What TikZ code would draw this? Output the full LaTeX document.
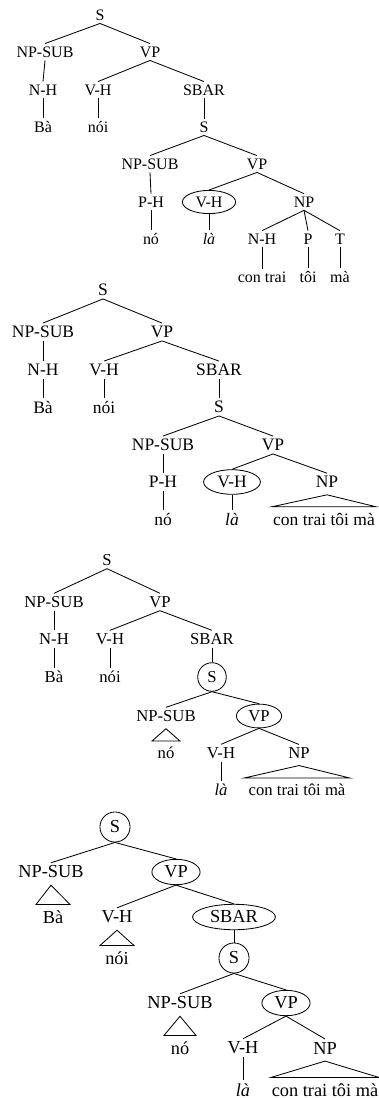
\documentclass[tikz,border=0pt]{standalone}
\usepackage{fontspec}
\setmainfont{Liberation Serif}
\usetikzlibrary{shapes.geometric, calc}
\newcommand{\roof}[3]{\draw ($(#1.south)+(0,4)$) -- ($(#2.north)+(-#3,-3)$) -- ($(#2.north)+(#3,-3)$) -- cycle;}
\tikzset{
  lab/.style={inner sep=1.6pt},
  ring/.style={draw, ellipse, inner xsep=3.2pt, inner ysep=1.7pt},
  circ/.style={draw, circle, inner sep=3pt}
}

\begin{document}
\begin{tikzpicture}[x=0.6pt, y=-0.6pt, line width=0.5pt]
     \useasboundingbox (0,0) rectangle (379,1098);
     % first tree
     \begin{scope}[font=\fontsize{9.6}{11}\selectfont]
     \node[lab] (aS) at (100,15) {S};
     \node[lab] (aNPSUB) at (45,52) {NP-SUB};
     \node[lab] (aVP) at (150,52) {VP};
     \node[lab] (aNH) at (43,90) {N-H};
     \node[lab] (aVH) at (98,90) {V-H};
     \node[lab] (aSBAR) at (204,90) {SBAR};
     \node[lab] (aBa) at (43,127) {Bà};
     \node[lab] (anoi) at (98,127) {nói};
     \node[lab] (aSb) at (204,127) {S};
     \node[lab] (aNPSUBb) at (150,164) {NP-SUB};
     \node[lab] (aVPb) at (257,164) {VP};
     \node[lab] (aPH) at (151,202) {P-H};
     \node[ring] (aVHb) at (209,202) {V-H};
     \node[lab] (aNP) at (304,202) {NP};
     \node[lab] (ano) at (151,239) {nó};
     \node[lab] (ala) at (209,239) {\itshape là};
     \node[lab] (aNHb) at (262,239) {N-H};
     \node[lab] (aP) at (308,239) {P};
     \node[lab] (aT) at (340,239) {T};
     \node[lab] (acon) at (262,277) {con trai};
     \node[lab] (atoi) at (308,277) {tôi};
     \node[lab] (ama) at (340,277) {mà};
     \foreach \p/\c in {aS/aNPSUB, aS/aVP, aNPSUB/aNH, aNH/aBa, aVP/aVH, aVP/aSBAR,
       aVH/anoi, aSBAR/aSb, aSb/aNPSUBb, aSb/aVPb, aNPSUBb/aPH, aPH/ano, aVPb/aVHb,
       aVPb/aNP, aVHb/ala, aNP/aNHb, aNP/aP, aNP/aT, aNHb/acon, aP/atoi, aT/ama}
       \draw (\p.south) -- (\c.north);
     \end{scope}
     % second tree
     \begin{scope}[font=\fontsize{10.5}{12.5}\selectfont]
     \node[lab] (bS) at (103,290) {S};
     \node[lab] (bNPSUB) at (43,332) {NP-SUB};
     \node[lab] (bVP) at (162,332) {VP};
     \node[lab] (bNH) at (43,370) {N-H};
     \node[lab] (bVH) at (104,370) {V-H};
     \node[lab] (bSBAR) at (219,370) {SBAR};
     \node[lab] (bBa) at (43,407) {Bà};
     \node[lab] (bnoi) at (104,407) {nói};
     \node[lab] (bSb) at (219,407) {S};
     \node[lab] (bNPSUBb) at (163,445) {NP-SUB};
     \node[lab] (bVPb) at (273,445) {VP};
     \node[lab] (bPH) at (163,482) {P-H};
     \node[ring] (bVHb) at (232,482) {V-H};
     \node[lab] (bNP) at (327,482) {NP};
     \node[lab] (bno) at (163,519) {nó};
     \node[lab] (bla) at (232,519) {\itshape là};
     \node[lab] (bcon) at (324,519) {con trai tôi mà};
     \foreach \p/\c in {bS/bNPSUB, bS/bVP, bNPSUB/bNH, bNH/bBa, bVP/bVH, bVP/bSBAR,
       bVH/bnoi, bSBAR/bSb, bSb/bNPSUBb, bSb/bVPb, bNPSUBb/bPH, bPH/bno, bVPb/bVHb,
       bVPb/bNP, bVHb/bla}
       \draw (\p.south) -- (\c.north);
     \roof{bNP}{bcon}{52}
     \end{scope}
     % third tree
     \begin{scope}[font=\fontsize{10}{12}\selectfont]
     \node[lab] (cS) at (107,560) {S};
     \node[lab] (cNPSUB) at (54,602) {NP-SUB};
     \node[lab] (cVP) at (160,602) {VP};
     \node[lab] (cNH) at (54,639) {N-H};
     \node[lab] (cVH) at (110,639) {V-H};
     \node[lab] (cSBAR) at (212,639) {SBAR};
     \node[lab] (cBa) at (54,677) {Bà};
     \node[lab] (cnoi) at (110,677) {nói};
     \node[circ] (cSb) at (212,677) {S};
     \node[lab] (cNPSUBb) at (166,716) {NP-SUB};
     \node[ring] (cVPb) at (259,716) {VP};
     \node[lab] (cno) at (166,753) {nó};
     \node[lab] (cVHb) at (221,753) {V-H};
     \node[lab] (cNP) at (299,753) {NP};
     \node[lab] (cla) at (221,790) {\itshape là};
     \node[lab] (ccon) at (297,790) {con trai tôi mà};
     \foreach \p/\c in {cS/cNPSUB, cS/cVP, cNPSUB/cNH, cNH/cBa, cVP/cVH, cVP/cSBAR,
       cVH/cnoi, cSBAR/cSb, cSb/cNPSUBb, cSb/cVPb, cVPb/cVHb, cVPb/cNP, cVHb/cla}
       \draw (\p.south) -- (\c.north);
     \roof{cNPSUBb}{cno}{14}
     \roof{cNP}{ccon}{53}
     \end{scope}
     % fourth tree
     \begin{scope}[font=\fontsize{11}{13}\selectfont]
     \node[circ] (dS) at (115,827) {S};
     \node[lab] (dNPSUB) at (51,872) {NP-SUB};
     \node[ring] (dVP) at (176,872) {VP};
     \node[lab] (dBa) at (53,917) {Bà};
     \node[lab] (dVH) at (117,917) {V-H};
     \node[ring] (dSBAR) at (234,917) {SBAR};
     \node[lab] (dnoi) at (117,958) {nói};
     \node[circ] (dSb) at (234,958) {S};
     \node[lab] (dNPSUBb) at (180,1003) {NP-SUB};
     \node[ring] (dVPb) at (286,1003) {VP};
     \node[lab] (dno) at (180,1048) {nó};
     \node[lab] (dVHb) at (243,1048) {V-H};
     \node[lab] (dNP) at (325,1048) {NP};
     \node[lab] (dla) at (243,1090) {\itshape là};
     \node[lab] (dcon) at (325,1090) {con trai tôi mà};
     \foreach \p/\c in {dS/dNPSUB, dS/dVP, dVP/dVH, dVP/dSBAR, dSBAR/dSb, dSb/dNPSUBb,
       dSb/dVPb, dVPb/dVHb, dVPb/dNP, dVHb/dla}
       \draw (\p.south) -- (\c.north);
     \roof{dNPSUB}{dBa}{17}
     \roof{dVH}{dnoi}{17}
     \roof{dNPSUBb}{dno}{16}
     \roof{dNP}{dcon}{54}
     \end{scope}
\end{tikzpicture}
\end{document}
